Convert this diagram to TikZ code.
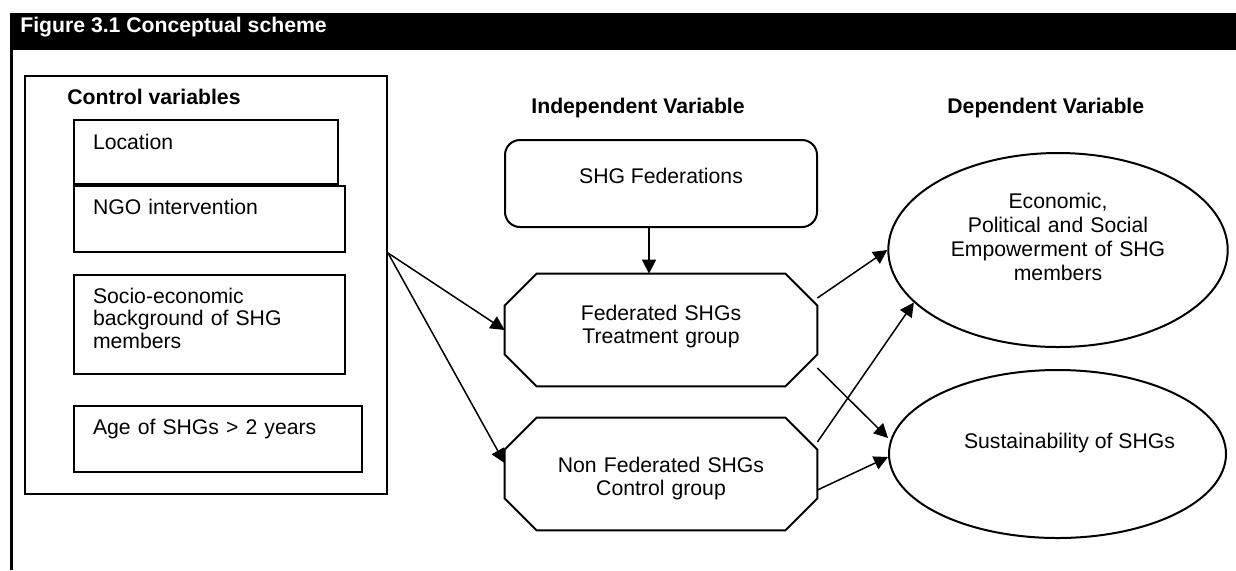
\documentclass[tikz,border=0pt]{standalone}
\usepackage{fontspec}
\setmainfont{Liberation Sans}
\usetikzlibrary{positioning, shapes.geometric, arrows.meta}
\tikzset{
    x=0.5pt, y=-0.5pt, % one unit = one pixel of the scan
    >={Triangle[length=7pt, width=7pt]},
    every node/.style={font=\fontsize{10.6}{11.5}\selectfont},
    heading/.style={font=\fontsize{10.6}{11.5}\selectfont\bfseries, anchor=base west, inner sep=0pt},
    title/.style={heading, text=white},
    boxline/.style={line width=1pt},
    varbox/.style={draw, boxline, anchor=north west, align=left, inner xsep=9.5pt, inner ysep=0pt, text height=14pt},
    groupbox/.style={align=center, text width=150pt, minimum width=156pt, minimum height=56pt, inner sep=0pt, text height=7.7pt},
    outcome/.style={draw, boxline, ellipse, align=center, inner sep=0pt, text height=7.7pt},
    arrow/.style={->, line width=0.75pt},
}
% octagon drawn round a named node
\newcommand{\octagonframe}[2]{%
    \draw[boxline] ([xshift=#2]#1.north west) -- ([xshift=-#2]#1.north east)
        -- ([yshift=-#2]#1.north east) -- ([yshift=#2]#1.south east)
        -- ([xshift=-#2]#1.south east) -- ([xshift=#2]#1.south west)
        -- ([yshift=#2]#1.south west) -- ([yshift=-#2]#1.north west) -- cycle;}
\begin{document}
\begin{tikzpicture}
    \useasboundingbox (0,0) rectangle (1236,570);

    % title bar and frame
    \fill (10,13) rectangle (1236,50);
    \node[title] (title) at (20,32) {Figure 3.1 Conceptual scheme};
    \draw[line width=1.2pt] (11.5,50) -- (11.5,570);

    % control variables
    \node[draw, boxline, anchor=north west, minimum width=181pt, minimum height=209pt, inner sep=0pt] (ctrl) at (24,75) {};
    \node[heading] (ctrlhead) at (67,104) {Control variables};
    \node[varbox, text height=14.5pt, text width=113pt, text depth=17.5pt] (loc) at (73,119) {Location};
    \node[varbox, text width=116.5pt, text depth=19pt] (ngo) at (73,185) {NGO intervention};
    \node[varbox, text width=116.5pt, text depth=35.5pt, font=\fontsize{10.6}{11.25}\selectfont] (socio) at (73,274)
        {Socio-economic\\background of SHG\\members};
    \node[varbox, text width=125pt, text depth=19pt] (age) at (73,405) {Age of SHGs > 2 years};
    \coordinate (split) at ([yshift=16pt]ctrl.east);

    % independent variable
    \node[heading] (indhead) at (531,113) {Independent Variable};
    \node[draw, boxline, rounded corners=7.5pt, minimum width=156pt, minimum height=43.5pt, inner sep=0pt,
          text height=7.7pt, text depth=7.7pt] (shgfed) at (661,183.5) {SHG Federations};
    \node[groupbox, text depth=17.7pt] (fed) at (661,330) {Federated SHGs\\Treatment group};
    \node[groupbox, text depth=9.7pt] (nonfed) at (661,474) {Non Federated SHGs\\Control group};
    \octagonframe{fed}{16pt}
    \octagonframe{nonfed}{16pt}

    % dependent variable
    \node[heading] (dephead) at (947,113) {Dependent Variable};
    \node[outcome, text width=120pt, minimum width=169pt, minimum height=97pt, text depth=49.7pt,
          font=\fontsize{10.6}{12}\selectfont] (emp) at (1058,250)
        {Economic,\\Political and Social\\Empowerment of SHG\\members};
    \node[outcome, minimum width=168.5pt, minimum height=84pt, text depth=13.7pt] (sus) at (1057.5,454)
        {\hspace*{12pt}Sustainability of SHGs};

    % links
    \draw[arrow] (split) -- (fed.west);
    \draw[arrow] (split) -- ([yshift=5.5pt]nonfed.west);
    \draw[arrow] ([xshift=-6pt]shgfed.south) -- ([xshift=-6pt]fed.north);
    \draw[arrow] ([yshift=16pt]fed.east) -- (emp.west);
    \draw[arrow] ([yshift=-19pt]fed.east) -- ([yshift=8pt]sus.west);
    \draw[arrow] ([yshift=16pt]nonfed.east) -- (emp.200);
    \draw[arrow] ([yshift=-8pt]nonfed.east) -- ([yshift=-1.5pt]sus.west);
\end{tikzpicture}
\end{document}
